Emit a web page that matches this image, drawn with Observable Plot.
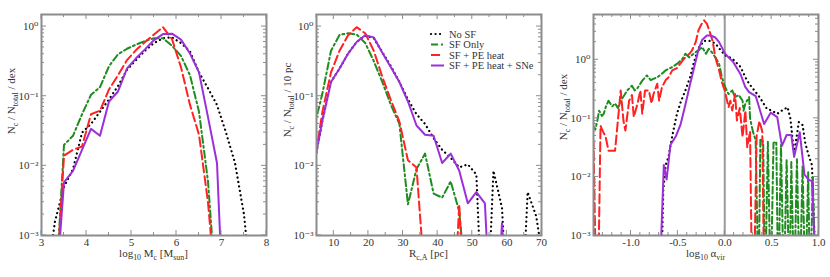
<!DOCTYPE html>
<html>
<head>
<meta charset="utf-8">
<script src="https://cdn.jsdelivr.net/npm/d3@7"></script>
<script src="https://cdn.jsdelivr.net/npm/@observablehq/plot@0.6"></script>
<style>
  html, body { margin: 0; padding: 0; background: #fff; }
  #wrap { display: flex; width: 830px; height: 277px; overflow: hidden; }
  #wrap svg { display: block; flex: none; max-width: none; }
</style>
</head>
<body>
<div id="wrap"></div>
<script>
// ---------------- DATA ----------------
// Panel 1: cloud mass function (log10 Mc)
const massX     = [3.1,3.3,3.5,3.7,3.9,4.1,4.3,4.5,4.7,4.9,5.1,5.3,5.5,5.7,5.9,6.1,6.3,6.5,6.7,6.9,7.1,7.3,7.5,7.7];
const massNoSF  = [2e-4,1.6e-3,5e-3,9e-3,0.03,0.04,0.06,0.09,0.14,0.24,0.33,0.45,0.58,0.68,0.7,0.58,0.44,0.22,0.13,0.075,0.03,0.011,0.002,1e-4];
const massSF    = [1e-5,1e-4,0.02,0.027,0.055,0.105,0.135,0.27,0.4,0.48,0.55,0.62,0.68,0.68,0.53,0.38,0.2,0.06,0.006,1e-4,1e-5,1e-5,1e-5,1e-5];
const massPE    = [1e-5,1e-4,0.014,0.017,0.019,0.055,0.062,0.125,0.2,0.33,0.46,0.6,0.77,0.98,0.66,0.26,0.075,0.028,0.003,1e-4,1e-5,1e-5,1e-5,1e-5];
const massSNe   = [1e-5,1e-4,0.0058,0.0085,0.017,0.034,0.027,0.084,0.117,0.25,0.35,0.47,0.64,0.78,0.79,0.65,0.41,0.22,0.05,0.011,1e-5,1e-5,1e-5,1e-5];

// Panel 2: cloud radius R_c,A [pc]
const radiusX    = [4.25,6.72,9.19,11.66,14.13,16.6,19.07,21.54,24.01,26.48,28.95,31.42,33.89,36.36,38.83,41.3,43.77,46.24,48.71,51.18,53.65,56.12,58.59,61.06,63.53,66.0,68.47,70.94];
const radiusNoSF = [0.01,0.045,0.16,0.25,0.41,0.6,0.74,0.68,0.43,0.27,0.16,0.09,0.055,0.04,0.025,0.017,0.013,0.0095,0.0105,0.0075,1e-5,0.0085,0.0025,1e-5,1e-5,0.0042,0.0019,3e-4];
const radiusSF   = [0.035,0.11,0.45,0.76,0.8,0.77,0.58,0.32,0.16,0.075,0.04,0.0028,0.009,0.015,0.004,0.0035,0.006,0.0022,1e-4,1e-5,1e-5,1e-5,1e-5,1e-5,1e-5,1e-5,1e-5,1e-5];
const radiusPE   = [0.01,0.06,0.22,0.45,0.75,0.98,0.8,0.45,0.19,0.088,0.043,0.012,0.0095,2e-4,1e-5,1e-5,1e-5,0.0028,1e-5,1e-5,1e-5,1e-5,1e-5,1e-5,1e-5,1e-5,1e-5,1e-5];
const radiusSNe  = [0.01,0.045,0.16,0.25,0.41,0.6,0.75,0.7,0.42,0.26,0.16,0.084,0.038,0.028,0.027,0.011,0.015,0.0085,0.0029,0.0042,0.0029,1e-5,0.0015,1e-5,1e-5,1e-5,1e-5,1e-5];

// Panel 3: virial parameter, [log10 alpha_vir, N/Ntot/dex]
const alphaNoSF = [[-0.68,1e-4],[-0.655,0.006],[-0.63,0.016],[-0.60,0.022],[-0.56,0.05],[-0.51,0.12],[-0.47,0.19],[-0.42,0.3],[-0.37,0.5],[-0.33,0.9],[-0.28,1.6],[-0.22,2.1],[-0.16,2.1],[-0.10,1.9],[-0.05,1.5],[0.0,1.2],[0.08,1.05],[0.17,0.75],[0.22,0.5],[0.26,0.39],[0.33,0.28],[0.38,0.22],[0.45,0.145],[0.50,0.136],[0.56,0.12],[0.61,0.136],[0.67,0.155],[0.70,0.1],[0.74,0.025],[0.79,0.086],[0.83,0.077],[0.86,0.037],[0.90,0.022],[0.93,0.016],[0.98,1e-4]];
const alphaSF = [[-1.42,0.08],[-1.38,0.065],[-1.36,0.09],[-1.34,0.135],[-1.31,0.11],[-1.29,0.12],[-1.27,0.155],[-1.24,0.2],[-1.20,0.16],[-1.17,0.18],[-1.14,0.15],[-1.11,0.2],[-1.07,0.25],[-1.04,0.3],[-0.99,0.36],[-0.96,0.3],[-0.93,0.33],[-0.88,0.44],[-0.83,0.54],[-0.79,0.45],[-0.75,0.48],[-0.72,0.5],[-0.67,0.58],[-0.63,0.66],[-0.56,0.75],[-0.51,0.85],[-0.45,1.04],[-0.42,1.27],[-0.38,1.1],[-0.35,1.2],[-0.31,1.35],[-0.28,1.44],[-0.24,1.64],[-0.20,1.27],[-0.17,1.54],[-0.13,1.3],[-0.10,1.1],[-0.06,0.85],[-0.03,0.5],[0.005,0.34],[0.04,0.26],[0.08,0.3],[0.11,0.23],[0.15,0.25],[0.19,0.2],[0.20,0.135],[0.22,0.18],[0.26,0.23],[0.27,0.1],[0.30,0.06],[0.33,0.042],[0.36,1e-4],[0.38,0.045],[0.41,0.04],[0.43,1e-4],[0.46,0.04],[0.49,1e-4],[0.52,0.038],[0.55,0.04],[0.57,1e-4],[0.60,0.035],[0.63,1e-4],[0.66,0.02],[0.69,1e-4],[0.71,0.018],[0.74,1e-4],[0.77,0.02],[0.80,1e-4],[0.83,0.015],[0.86,1e-4],[0.89,0.012],[0.91,1e-4],[0.94,0.01],[0.97,1e-4]];
const alphaPE = [[-1.42,0.045],[-1.40,0.04],[-1.36,1e-5],[-1.325,0.075],[-1.30,0.06],[-1.27,0.048],[-1.24,0.028],[-1.20,0.028],[-1.17,0.028],[-1.13,0.135],[-1.11,0.3],[-1.08,0.09],[-1.06,0.062],[-1.02,0.2],[-0.99,0.25],[-0.97,0.105],[-0.93,0.18],[-0.90,0.3],[-0.88,0.12],[-0.85,0.3],[-0.81,0.3],[-0.78,0.18],[-0.76,0.26],[-0.72,0.39],[-0.70,0.2],[-0.67,0.34],[-0.63,0.45],[-0.60,0.5],[-0.56,0.66],[-0.51,0.72],[-0.45,0.97],[-0.42,1.1],[-0.38,1.25],[-0.35,1.44],[-0.31,2.0],[-0.28,3.2],[-0.25,4.0],[-0.22,4.7],[-0.19,4.1],[-0.16,3.0],[-0.13,2.1],[-0.10,1.1],[-0.06,0.66],[-0.03,0.41],[0.0,0.3],[0.04,0.155],[0.06,0.2],[0.08,0.136],[0.11,0.26],[0.13,0.092],[0.16,0.15],[0.19,0.048],[0.22,0.136],[0.24,0.032],[0.27,0.06],[0.30,1e-5],[0.34,0.05],[0.37,0.09],[0.40,0.06],[0.43,1e-5]];
const alphaSNe = [[-0.70,1e-4],[-0.65,0.016],[-0.62,0.009],[-0.58,0.035],[-0.52,0.05],[-0.47,0.08],[-0.42,0.17],[-0.37,0.38],[-0.33,0.7],[-0.28,1.5],[-0.24,2.2],[-0.19,2.6],[-0.15,2.6],[-0.10,2.4],[-0.06,2.0],[0.0,1.3],[0.04,1.1],[0.09,0.92],[0.17,0.56],[0.22,0.34],[0.26,0.28],[0.33,0.24],[0.42,0.08],[0.49,0.125],[0.56,0.105],[0.61,0.034],[0.66,0.052],[0.71,0.052],[0.74,0.022],[0.80,0.058],[0.85,0.011],[0.90,0.0087],[0.93,0.0087],[0.98,1e-4]];

// Legend labels and axis ticks
const seriesNames = ["No SF", "SF Only", "SF + PE heat", "SF + PE heat + SNe"];
const massTicks = [3,4,5,6,7,8];
const massMinor = [3.5,4.5,5.5,6.5,7.5];
const radiusTicks = [10,20,30,40,50,60,70];
const radiusMinor = [5,15,25,35,45,55,65];
const alphaTicks = [-1.0,-0.5,0.0,0.5,1.0];
const alphaMinor = [-1.3,-1.2,-1.1,-0.9,-0.8,-0.7,-0.6,-0.4,-0.3,-0.2,-0.1,0.1,0.2,0.3,0.4,0.6,0.7,0.8,0.9];
const decadeTicks = [1e-3,1e-2,1e-1,1];

// ---------------- STYLE ----------------
const FONT = '"Liberation Serif", "Times New Roman", "DejaVu Serif", serif';
const INK = "#333";
const FRAME = "#8c8c8c";
const styles = [
  {stroke:"#000000", strokeWidth:2.2, strokeDasharray:"0.1 4.4", strokeLinecap:"round"},
  {stroke:"#1e8c1e", strokeWidth:2, strokeDasharray:"7 3 2 3"},
  {stroke:"#ff2222", strokeWidth:2, strokeDasharray:"9 4"},
  {stroke:"#9b30d9", strokeWidth:2}
];

const SUP = {"-":"\u207B","0":"\u2070","1":"\u00B9","2":"\u00B2","3":"\u00B3"};
const logLabel = v => "10" + String(Math.round(Math.log10(v))).split("").map(c => SUP[c]).join("");
const zip = (xs, ys) => xs.map((x, i) => [x, ys[i]]);

function rich(sel, parts, size) {
  let cur = 0;
  for (const [t, m] of parts) {
    const ts = sel.append("tspan").text(t);
    const shift = m === 1 ? 3 : 0;
    if (shift !== cur) ts.attr("dy", shift - cur);
    if (m === 1) ts.attr("font-size", (size * 0.72).toFixed(1));
    cur = shift;
  }
}

const H = 277, MT = 14, MB = 42;

function makePanel(cfg) {
  const lineMarks = cfg.series.map((data, i) =>
    Plot.line(data, {x: d => d[0], y: d => d[1], ...styles[i], clip: true}));
  const plot = Plot.plot({
    width: cfg.width, height: H,
    marginLeft: cfg.ml, marginRight: cfg.mr, marginTop: MT, marginBottom: MB,
    style: {fontFamily: FONT, fontSize: "11px", color: INK, background: "#fff"},
    x: {domain: cfg.xDomain},
    y: {type: "log", domain: cfg.yDomain},
    marks: [
      ...(cfg.before || []),
      ...lineMarks,
      Plot.axisX({ticks: cfg.xTicks, tickSize: 0, tickPadding: 3, tickFormat: cfg.xFormat, label: null, fontSize: 11}),
      Plot.axisY({ticks: decadeTicks, tickSize: 0, tickPadding: 3, tickFormat: logLabel, label: null, fontSize: 11}),
      Plot.frame({stroke: FRAME, strokeWidth: 2})
    ]
  });
  const sxo = plot.scale("x"), syo = plot.scale("y");
  const X = sxo.apply ? v => sxo.apply(v) : d3.scaleLinear(sxo.domain, sxo.range);
  const Y = syo.apply ? v => syo.apply(v) : d3.scaleLog(syo.domain, syo.range);
  const x0 = cfg.ml, x1 = cfg.width - cfg.mr, y0 = MT, y1 = H - MB;
  const svg = d3.select(plot);
  const g = svg.append("g").attr("stroke", FRAME).attr("stroke-width", 1).attr("fill", "none");
  const tickX = (v, len) => {
    const px = X(v);
    g.append("line").attr("x1", px).attr("x2", px).attr("y1", y1).attr("y2", y1 - len);
    g.append("line").attr("x1", px).attr("x2", px).attr("y1", y0).attr("y2", y0 + len);
  };
  const tickY = (v, len) => {
    const py = Y(v);
    g.append("line").attr("y1", py).attr("y2", py).attr("x1", x0).attr("x2", x0 + len);
    g.append("line").attr("y1", py).attr("y2", py).attr("x1", x1).attr("x2", x1 - len);
  };
  cfg.xTicks.forEach(v => tickX(v, 5));
  cfg.xMinor.forEach(v => tickX(v, 3));
  for (let e = -3; e <= 0; e++) {
    for (let m = 1; m <= 9; m++) {
      const v = m * Math.pow(10, e);
      if (v < cfg.yDomain[0] || v > cfg.yDomain[1]) continue;
      tickY(v, m === 1 ? 5 : 3);
    }
  }
  // axis titles
  const tx = svg.append("text").attr("x", (x0 + x1) / 2).attr("y", 257)
    .attr("text-anchor", "middle").attr("fill", INK)
    .attr("font-family", FONT).attr("font-size", 11);
  rich(tx, cfg.xTitle, 11);
  const ty = svg.append("text")
    .attr("transform", `translate(${cfg.yTitleX},${cfg.yTitleY}) rotate(-90)`)
    .attr("text-anchor", "middle").attr("fill", INK)
    .attr("font-family", FONT).attr("font-size", 11);
  rich(ty, cfg.yTitle, 11);
  if (cfg.legend) cfg.legend(svg);
  document.getElementById("wrap").appendChild(plot);
}

const yTitleDex = [["N",0],["c",1],[" / N",0],["total",1],[" / dex",0]];

makePanel({
  width: 277, ml: 41, mr: 11,
  xDomain: [3, 8], yDomain: [1e-3, 1.49],
  xTicks: massTicks, xMinor: massMinor, xFormat: d => String(d),
  series: [zip(massX, massNoSF), zip(massX, massSF), zip(massX, massPE), zip(massX, massSNe)],
  xTitle: [["log",0],["10",1],[" M",0],["c",1],[" [M",0],["sun",1],["]",0]],
  yTitle: yTitleDex, yTitleX: 15, yTitleY: 101
});

makePanel({
  width: 277, ml: 39, mr: 13,
  xDomain: [5, 70], yDomain: [1e-3, 1.49],
  xTicks: radiusTicks, xMinor: radiusMinor, xFormat: d => String(d),
  series: [zip(radiusX, radiusNoSF), zip(radiusX, radiusSF), zip(radiusX, radiusPE), zip(radiusX, radiusSNe)],
  xTitle: [["R",0],["c,A",1],[" [pc]",0]],
  yTitle: [["N",0],["c",1],[" / N",0],["total",1],[" / 10 pc",0]], yTitleX: 14, yTitleY: 100,
  legend: svg => {
    const lg = svg.append("g");
    seriesNames.forEach((name, i) => {
      const cy = 34 + i * 10.5;
      const st = styles[i];
      lg.append("line").attr("x1", 154).attr("x2", 167).attr("y1", cy).attr("y2", cy)
        .attr("stroke", st.stroke).attr("stroke-width", st.strokeWidth)
        .attr("stroke-dasharray", st.strokeDasharray || null)
        .attr("stroke-linecap", st.strokeLinecap || null);
      lg.append("text").attr("x", 172).attr("y", cy + 3.5).attr("fill", INK)
        .attr("text-anchor", "start")
        .attr("font-family", FONT).attr("font-size", 10.5).text(name);
    });
  }
});

makePanel({
  width: 276, ml: 39, mr: 12,
  xDomain: [-1.4, 1.0], yDomain: [1e-3, 5.93],
  xTicks: alphaTicks, xMinor: alphaMinor, xFormat: d => d.toFixed(1),
  series: [alphaNoSF, alphaSF, alphaPE, alphaSNe],
  before: [Plot.ruleX([0], {stroke: "#9a9a9a", strokeWidth: 2})],
  xTitle: [["log",0],["10",1],[" \u03B1",0],["vir",1]],
  yTitle: yTitleDex, yTitleX: 13, yTitleY: 107
});
</script>
</body>
</html>
